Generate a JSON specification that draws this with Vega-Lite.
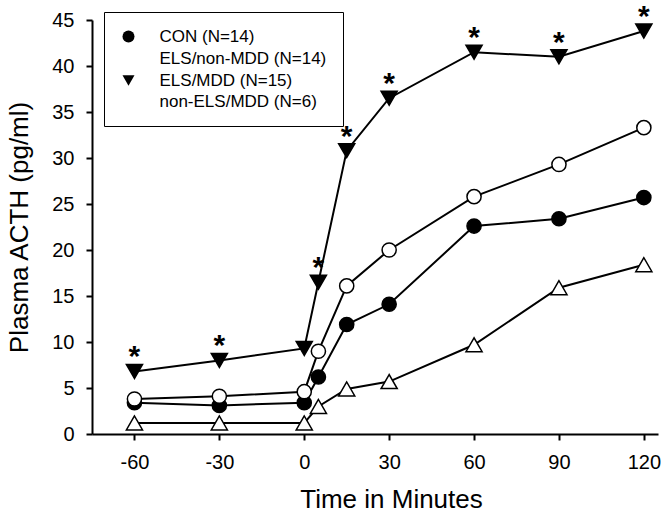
{
  "$schema": "https://vega.github.io/schema/vega-lite/v6.json",
  "width": 566,
  "height": 414,
  "autosize": {"type": "none"},
  "padding": {"left": 92, "top": 20, "right": 7, "bottom": 80},
  "background": "white",
  "config": {
    "view": {"stroke": null},
    "font": "Liberation Sans",
    "axis": {
      "grid": false,
      "domainColor": "black",
      "domainWidth": 2,
      "tickColor": "black",
      "tickWidth": 2,
      "tickSize": 6,
      "labelFont": "Liberation Sans",
      "labelFontSize": 20,
      "labelColor": "black",
      "titleFont": "Liberation Sans",
      "titleFontSize": 26,
      "titleFontWeight": "normal",
      "titleColor": "black"
    },
    "legend": {
      "orient": "none",
      "legendX": 12,
      "legendY": -8,
      "padding": 16,
      "strokeColor": "black",
      "fillColor": "white",
      "symbolSize": 144,
      "labelFont": "Liberation Sans",
      "labelFontSize": 17,
      "labelColor": "black",
      "labelOffset": 22.5,
      "labelLimit": 400,
      "rowPadding": 3,
      "symbolStrokeColor": "black",
      "symbolStrokeWidth": 1.5,
      "symbolOpacity": 1
    }
  },
  "data": {
    "values": [
      {"t": -60, "g": "CON (N=14)", "v": 3.4, "sig": false, "tri": false},
      {"t": -30, "g": "CON (N=14)", "v": 3.1, "sig": false, "tri": false},
      {"t": 0, "g": "CON (N=14)", "v": 3.4, "sig": false, "tri": false},
      {"t": 5, "g": "CON (N=14)", "v": 6.2, "sig": false, "tri": false},
      {"t": 15, "g": "CON (N=14)", "v": 11.9, "sig": false, "tri": false},
      {"t": 30, "g": "CON (N=14)", "v": 14.1, "sig": false, "tri": false},
      {"t": 60, "g": "CON (N=14)", "v": 22.6, "sig": false, "tri": false},
      {"t": 90, "g": "CON (N=14)", "v": 23.4, "sig": false, "tri": false},
      {"t": 120, "g": "CON (N=14)", "v": 25.7, "sig": false, "tri": false},
      {"t": -60, "g": "ELS/non-MDD (N=14)", "v": 3.8, "sig": false, "tri": false},
      {"t": -30, "g": "ELS/non-MDD (N=14)", "v": 4.1, "sig": false, "tri": false},
      {"t": 0, "g": "ELS/non-MDD (N=14)", "v": 4.6, "sig": false, "tri": false},
      {"t": 5, "g": "ELS/non-MDD (N=14)", "v": 9.0, "sig": false, "tri": false},
      {"t": 15, "g": "ELS/non-MDD (N=14)", "v": 16.1, "sig": false, "tri": false},
      {"t": 30, "g": "ELS/non-MDD (N=14)", "v": 20.0, "sig": false, "tri": false},
      {"t": 60, "g": "ELS/non-MDD (N=14)", "v": 25.8, "sig": false, "tri": false},
      {"t": 90, "g": "ELS/non-MDD (N=14)", "v": 29.3, "sig": false, "tri": false},
      {"t": 120, "g": "ELS/non-MDD (N=14)", "v": 33.3, "sig": false, "tri": false},
      {"t": -60, "g": "ELS/MDD (N=15)", "v": 6.8, "sig": true, "tri": true},
      {"t": -30, "g": "ELS/MDD (N=15)", "v": 8.0, "sig": true, "tri": true},
      {"t": 0, "g": "ELS/MDD (N=15)", "v": 9.3, "sig": false, "tri": true},
      {"t": 5, "g": "ELS/MDD (N=15)", "v": 16.5, "sig": true, "tri": true},
      {"t": 15, "g": "ELS/MDD (N=15)", "v": 30.8, "sig": true, "tri": true},
      {"t": 30, "g": "ELS/MDD (N=15)", "v": 36.5, "sig": true, "tri": true},
      {"t": 60, "g": "ELS/MDD (N=15)", "v": 41.5, "sig": true, "tri": true},
      {"t": 90, "g": "ELS/MDD (N=15)", "v": 41.0, "sig": true, "tri": true},
      {"t": 120, "g": "ELS/MDD (N=15)", "v": 43.8, "sig": true, "tri": true},
      {"t": -60, "g": "non-ELS/MDD (N=6)", "v": 1.2, "sig": false, "tri": true},
      {"t": -30, "g": "non-ELS/MDD (N=6)", "v": 1.2, "sig": false, "tri": true},
      {"t": 0, "g": "non-ELS/MDD (N=6)", "v": 1.2, "sig": false, "tri": true},
      {"t": 5, "g": "non-ELS/MDD (N=6)", "v": 3.0, "sig": false, "tri": true},
      {"t": 15, "g": "non-ELS/MDD (N=6)", "v": 4.9, "sig": false, "tri": true},
      {"t": 30, "g": "non-ELS/MDD (N=6)", "v": 5.7, "sig": false, "tri": true},
      {"t": 60, "g": "non-ELS/MDD (N=6)", "v": 9.7, "sig": false, "tri": true},
      {"t": 90, "g": "non-ELS/MDD (N=6)", "v": 15.9, "sig": false, "tri": true},
      {"t": 120, "g": "non-ELS/MDD (N=6)", "v": 18.4, "sig": false, "tri": true}
    ]
  },
  "encoding": {
    "x": {
      "field": "t",
      "type": "quantitative",
      "scale": {"domain": [-75, 125], "nice": false, "zero": false},
      "axis": {
        "values": [-60, -30, 0, 30, 60, 90, 120],
        "labelExpr": "toString(datum.value)",
        "title": "Time in Minutes",
        "labelPadding": 12,
        "titleX": 299,
        "titleY": 73,
        "titleAlign": "center",
        "titleBaseline": "alphabetic",
        "titleAnchor": null
      }
    },
    "y": {
      "field": "v",
      "type": "quantitative",
      "scale": {"domain": [0, 45], "nice": false},
      "axis": {
        "values": [0, 5, 10, 15, 20, 25, 30, 35, 40, 45],
        "title": "Plasma ACTH (pg/ml)",
        "labelPadding": 12,
        "titleX": -65,
        "titleY": 207,
        "titleAngle": -90,
        "titleAlign": "center",
        "titleBaseline": "alphabetic",
        "titleAnchor": null
      }
    },
    "shape": {
      "field": "g",
      "type": "nominal",
      "scale": {
        "domain": ["CON (N=14)", "ELS/non-MDD (N=14)", "ELS/MDD (N=15)", "non-ELS/MDD (N=6)"],
        "range": ["circle", "circle", "triangle-down", "triangle-up"]
      },
      "legend": {"title": null}
    },
    "fill": {
      "field": "g",
      "type": "nominal",
      "scale": {
        "domain": ["CON (N=14)", "ELS/non-MDD (N=14)", "ELS/MDD (N=15)", "non-ELS/MDD (N=6)"],
        "range": ["black", "white", "black", "white"]
      },
      "legend": {"title": null}
    }
  },
  "layer": [
    {
      "mark": {"type": "line", "color": "black", "strokeWidth": 2},
      "encoding": {"detail": {"field": "g", "type": "nominal"}, "shape": null, "fill": null}
    },
    {
      "transform": [{"filter": "!datum.tri"}],
      "mark": {"type": "point", "filled": true, "stroke": "black", "strokeWidth": 1.5, "opacity": 1, "size": 200}
    },
    {
      "transform": [{"filter": "datum.tri"}],
      "mark": {"type": "point", "filled": true, "stroke": "black", "strokeWidth": 1.5, "opacity": 1, "size": 260}
    },
    {
      "transform": [{"filter": "datum.sig"}],
      "mark": {"type": "text", "text": "*", "fontSize": 30, "fontWeight": "bold", "baseline": "alphabetic", "dy": -5, "color": "black", "font": "Liberation Sans"},
      "encoding": {"shape": null, "fill": null}
    }
  ]
}
